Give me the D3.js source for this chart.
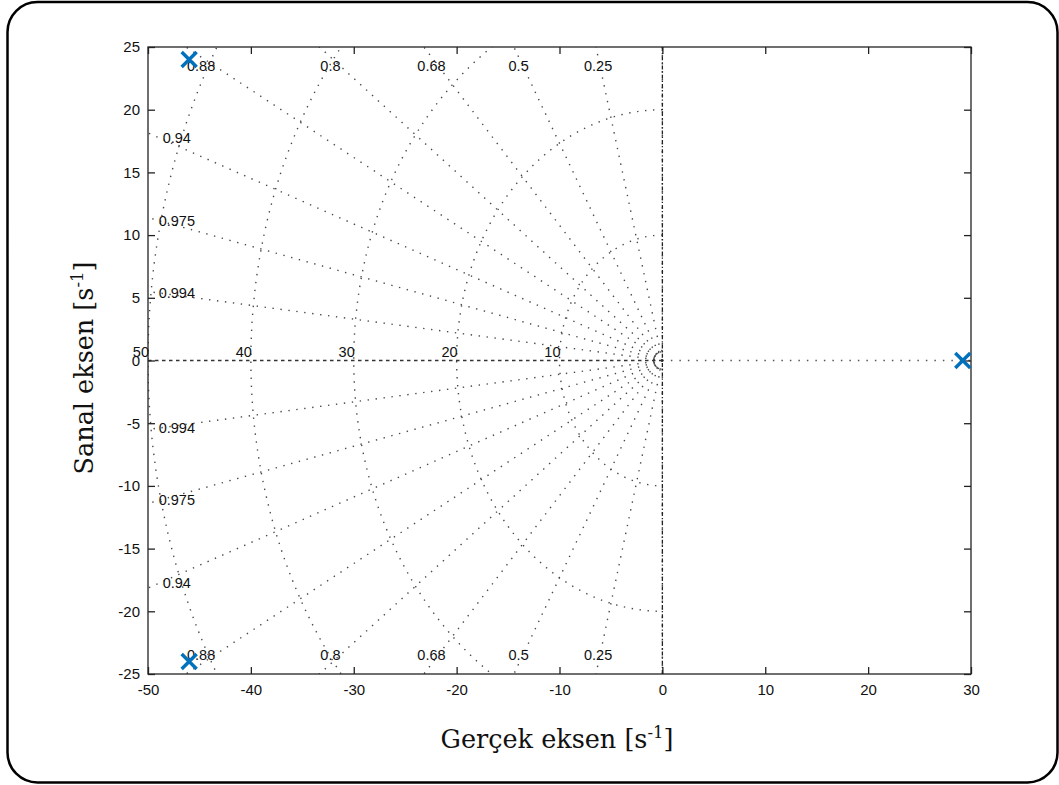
<!DOCTYPE html>
<html>
<head>
<meta charset="utf-8">
<script src="https://cdn.jsdelivr.net/npm/d3@7"></script>
<style>
  html, body { margin: 0; padding: 0; background: #fff; }
  svg { display: block; }
</style>
</head>
<body>
<svg id="chart" width="1059" height="785"></svg>
<script>
// Pole locations (real, imaginary) in s^-1
const poleRe = [-46, -46, 29.2];
const poleIm = [24, -24, 0];

// s-plane grid: damping ratios and natural frequencies
const dampingTop = [0.88, 0.8, 0.68, 0.5, 0.25];
const dampingSide = [0.94, 0.975, 0.994];
const naturalFreqs = [10, 20, 30, 40, 50];
const smallFreqs = [0.8];

const xTicks = [-50, -40, -30, -20, -10, 0, 10, 20, 30];
const yTicks = [-25, -20, -15, -10, -5, 0, 5, 10, 15, 20, 25];
const xDomain = [-50, 30];
const yDomain = [-25, 25];

const svg = d3.select("#chart");
const W = 1059, H = 785;
const plot = { left: 148, right: 971, top: 47, bottom: 674 };

// Rounded frame around the whole figure
svg.append("rect")
  .attr("x", 7.5).attr("y", 2)
  .attr("width", W - 9).attr("height", H - 4.5)
  .attr("rx", 30).attr("ry", 30)
  .attr("fill", "none").attr("stroke", "#000").attr("stroke-width", 2.5);

const x = d3.scaleLinear().domain(xDomain).range([plot.left, plot.right]);
const y = d3.scaleLinear().domain(yDomain).range([plot.bottom, plot.top]);

svg.append("defs").append("clipPath").attr("id", "plotClip")
  .append("rect")
  .attr("x", plot.left).attr("y", plot.top)
  .attr("width", plot.right - plot.left).attr("height", plot.bottom - plot.top);

const g = svg.append("g").attr("clip-path", "url(#plotClip)");
const dotStyle = sel => sel.attr("fill", "none").attr("stroke", "#4a4a4a")
  .attr("stroke-width", 1.4).attr("stroke-dasharray", "1.4 6.6");

const line = d3.line().x(d => x(d[0])).y(d => y(d[1]));

// Constant-damping rays (upper and lower half-plane)
const allZeta = [0, 0.25, 0.5, 0.68, 0.8, 0.88, 0.94, 0.975, 0.994];
const R = 80;
allZeta.forEach(z => {
  const th = Math.acos(z);
  [1, -1].forEach(sgn => {
    g.append("path")
      .datum([[0, 0], [-R * Math.cos(th), sgn * R * Math.sin(th)]])
      .attr("d", line).call(dotStyle);
  });
});

// Constant natural-frequency arcs in the left half-plane
naturalFreqs.concat(smallFreqs).forEach(wn => {
  const pts = d3.range(90, 270.01, 1).map(a => {
    const r = a * Math.PI / 180;
    return [wn * Math.cos(r), wn * Math.sin(r)];
  });
  g.append("path").datum(pts).attr("d", line).call(dotStyle)
    .attr("stroke-dasharray", wn < 5 ? "1.2 2" : "1.4 6.6");
});

// Real-axis: dense dashes on the left, dots on the right
g.append("path").datum([[-50, 0], [0, 0]]).attr("d", line)
  .attr("stroke", "#333").attr("stroke-width", 1.3).attr("stroke-dasharray", "3.5 3.5");
g.append("path").datum([[0, 0], [30, 0]]).attr("d", line)
  .attr("stroke", "#555").attr("stroke-width", 1.4).attr("stroke-dasharray", "1.5 7");
// Imaginary axis (axis line overlaid on the zero-damping ray)
g.append("path").datum([[0, -25], [0, 25]]).attr("d", line)
  .attr("stroke", "#222").attr("stroke-width", 1.3).attr("stroke-dasharray", "4 2 1.3 2");

// Grid labels
const lblFont = "'Liberation Sans', Arial, Helvetica, sans-serif";
const labels = svg.append("g").attr("font-family", lblFont).attr("font-size", 14.5).attr("fill", "#111");
dampingTop.forEach(z => {
  const t = Math.tan(Math.acos(z));
  [1, -1].forEach(sgn => {
    labels.append("text")
      .attr("x", x(-24.2 / t)).attr("y", y(sgn * 23.5))
      .attr("text-anchor", "middle").attr("dy", "0.35em")
      .text(z);
  });
});
dampingSide.forEach(z => {
  const t = Math.tan(Math.acos(z));
  [1, -1].forEach(sgn => {
    labels.append("text")
      .attr("x", x(-47.2)).attr("y", y(sgn * 48.9 * t))
      .attr("text-anchor", "middle").attr("dy", "0.35em")
      .text(z);
  });
});
naturalFreqs.forEach(wn => {
  labels.append("text")
    .attr("x", x(-wn) + 1).attr("y", y(0) - 4)
    .attr("text-anchor", "end")
    .text(wn);
});

// Axes box and ticks
svg.append("rect")
  .attr("x", plot.left).attr("y", plot.top)
  .attr("width", plot.right - plot.left).attr("height", plot.bottom - plot.top)
  .attr("fill", "none").attr("stroke", "#222").attr("stroke-width", 1.3);

const tickLen = 7;
const fmt = d => String(d);
const styleAxis = sel => {
  sel.select(".domain").remove();
  sel.selectAll(".tick line").attr("stroke", "#222").attr("stroke-width", 1.3);
  sel.selectAll(".tick text").attr("font-family", lblFont).attr("font-size", 15).attr("fill", "#111");
};
svg.append("g").attr("transform", `translate(0,${plot.bottom})`)
  .call(d3.axisBottom(x).tickValues(xTicks).tickSizeInner(-tickLen).tickSizeOuter(0).tickPadding(10).tickFormat(fmt))
  .call(styleAxis);
svg.append("g").attr("transform", `translate(0,${plot.top})`)
  .call(d3.axisTop(x).tickValues(xTicks).tickSizeInner(-tickLen).tickSizeOuter(0).tickFormat(""))
  .call(styleAxis);
svg.append("g").attr("transform", `translate(${plot.left},0)`)
  .call(d3.axisLeft(y).tickValues(yTicks).tickSizeInner(-tickLen).tickSizeOuter(0).tickPadding(8).tickFormat(fmt))
  .call(styleAxis);
svg.append("g").attr("transform", `translate(${plot.right},0)`)
  .call(d3.axisRight(y).tickValues(yTicks).tickSizeInner(-tickLen).tickSizeOuter(0).tickFormat(""))
  .call(styleAxis);

// Pole markers
const poles = poleRe.map((re, i) => [re, poleIm[i]]);
const s = 7.5;
const pg = svg.append("g").attr("stroke", "#0072BD").attr("stroke-width", 3.4);
poles.forEach(p => {
  const cx = x(p[0]), cy = y(p[1]);
  pg.append("path").attr("d", `M${cx - s},${cy - s}L${cx + s},${cy + s}M${cx - s},${cy + s}L${cx + s},${cy - s}`);
});

// Axis titles
const titleFont = "'DejaVu Serif', 'Liberation Serif', serif";
const xt = svg.append("text")
  .attr("x", 557).attr("y", 748)
  .attr("text-anchor", "middle").attr("font-family", titleFont).attr("font-size", 25.5).attr("fill", "#111");
xt.append("tspan").text("Gerçek eksen [s");
xt.append("tspan").attr("dy", -10).attr("font-size", 16.5).text("-1");
xt.append("tspan").attr("dy", 10).text("]");

const yt = svg.append("text")
  .attr("transform", `translate(93,368) rotate(-90)`)
  .attr("text-anchor", "middle").attr("font-family", titleFont).attr("font-size", 25.5).attr("fill", "#111");
yt.append("tspan").text("Sanal eksen [s");
yt.append("tspan").attr("dy", -10).attr("font-size", 16.5).text("-1");
yt.append("tspan").attr("dy", 10).text("]");
</script>
</body>
</html>
